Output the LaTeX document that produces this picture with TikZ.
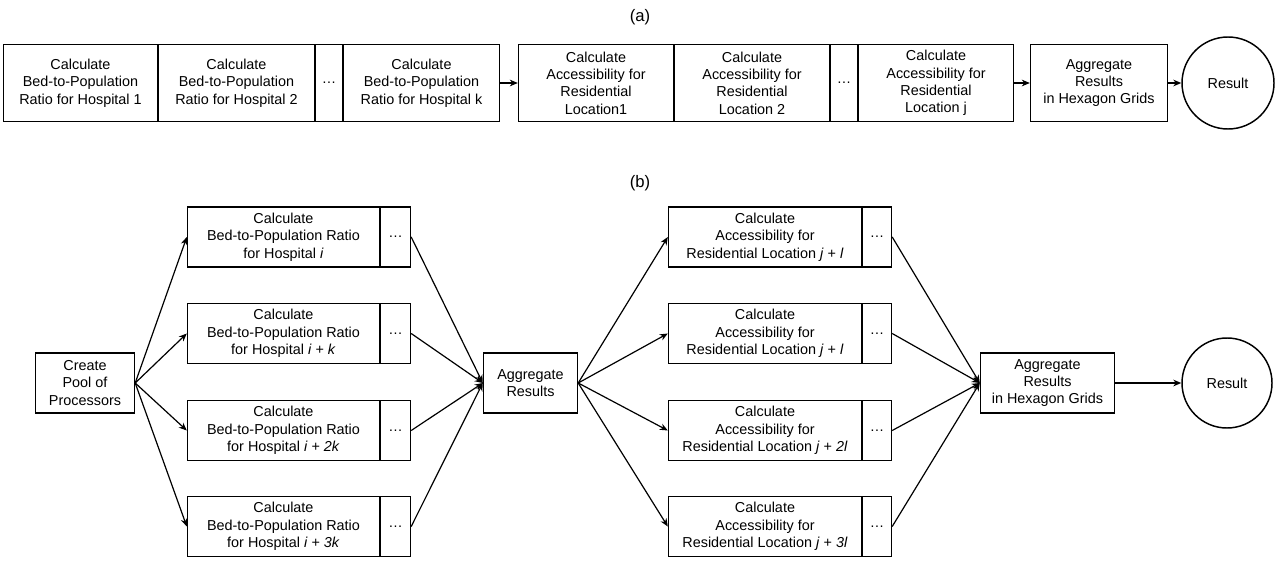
\documentclass[tikz,border=0pt]{standalone}
\usetikzlibrary{arrows.meta}
\usepackage{fontspec}
\setmainfont{Liberation Sans}
\begin{document}
\begin{tikzpicture}[x=0.75pt,y=-0.75pt,
 bx/.style={draw,line width=1.1pt,align=center,inner sep=0pt,font=\fontsize{10.8}{13}\selectfont},
 arr/.style={-{Stealth[length=6pt,width=5pt]},line width=0.9pt}]
\useasboundingbox (0,0) rectangle (1280,563);
\newcommand\B[6]{\node[bx,minimum width=#3*0.75pt-0.8pt,minimum height=#4*0.75pt-0.8pt] (#1) at (#2) {#5};}
\node[font=\fontsize{12.5}{14}\selectfont] (la) at (640,17) {(a)};
\node[font=\fontsize{12.5}{14}\selectfont] (lb) at (640,183) {(b)};
% top row
\B{a1}{80.5,83}{155}{78}{Calculate\\Bed-to-Population\\Ratio for Hospital 1}{}
\B{a2}{236.5,83}{157}{78}{Calculate\\Bed-to-Population\\Ratio for Hospital 2}{}
\B{a3}{329,83}{28}{78}{\dots}{}
\B{a4}{421.5,83}{157}{78}{Calculate\\Bed-to-Population\\Ratio for Hospital k}{}
\B{b1}{596,83}{156}{78}{Calculate\\Accessibility for\\Residential\\Location1}{}
\B{b2}{752,83}{156}{78}{Calculate\\Accessibility for\\Residential\\Location 2}{}
\B{b3}{844,83}{28}{78}{\dots}{}
\B{b4}{936,83}{156}{78}{Calculate\\Accessibility for\\Residential\\Location j}{}
\B{c1}{1099,83}{138}{78}{Aggregate\\Results\\in Hexagon Grids}{}
\node[draw,line width=1.1pt,circle,minimum size=92*0.75pt,font=\fontsize{10.8}{13}\selectfont] (r1) at (1228,83) {Result};
\draw[arr] (a4) -- (b1);
\draw[arr] (b4) -- (c1);
\draw[arr] (c1) -- (r1);
% bottom
\B{p}{85,383}{100}{61}{Create\\Pool of\\Processors}{}
\foreach \n/\y/\t in {1/237/for Hospital \textit{i},2/333.5/for Hospital \textit{i} + \textit{k},3/430.5/for Hospital \textit{i} + \textit{2k},4/526.5/for Hospital \textit{i} + \textit{3k}}{
 \B{h\n}{283.5,\y}{193}{61}{Calculate\\Bed-to-Population Ratio\\\t}{}
 \B{hd\n}{395.5,\y}{31}{61}{\dots}{}
}
\B{ag}{530.5,383}{95}{61}{Aggregate\\Results}{}
\foreach \n/\y/\t in {1/237/Residential Location \textit{j} + \textit{l},2/333.5/Residential Location \textit{j} + \textit{l},3/430.5/Residential Location \textit{j} + \textit{2l},4/526.5/Residential Location \textit{j} + \textit{3l}}{
 \B{s\n}{765,\y}{194}{61}{Calculate\\Accessibility for\\\t}{}
 \B{sd\n}{877,\y}{30}{61}{\dots}{}
}
\B{hx}{1047.5,383}{135}{61}{Aggregate\\Results\\in Hexagon Grids}{}
\node[draw,line width=1.1pt,circle,minimum size=90*0.75pt,font=\fontsize{10.8}{13}\selectfont] (r2) at (1227,383) {Result};
\foreach \n in {1,2,3,4}{
 \draw[arr] (p.east) -- (h\n.west);
 \draw[arr] (hd\n.east) -- (ag.west);
 \draw[arr] (ag.east) -- (s\n.west);
 \draw[arr] (sd\n.east) -- (hx.west);
}
\draw[arr] (hx) -- (r2);
\end{tikzpicture}
\end{document}
